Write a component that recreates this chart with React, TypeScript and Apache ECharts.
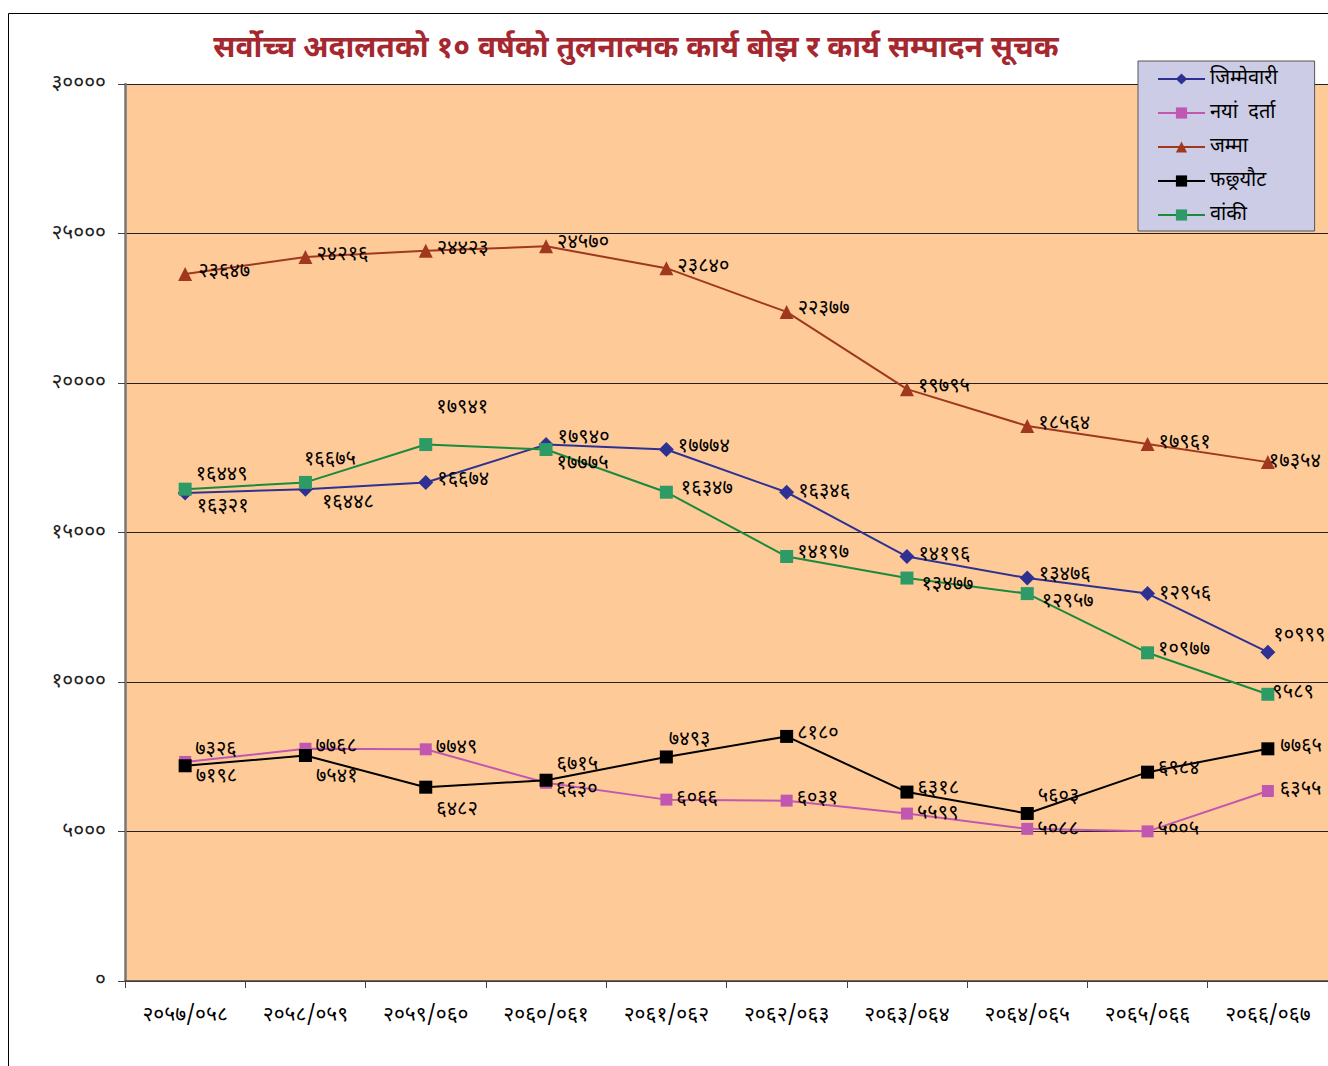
import React, { useEffect, useRef } from "react";
import * as echarts from "echarts";

const categories = [
  "२०५७/०५८", "२०५८/०५९", "२०५९/०६०", "२०६०/०६१", "२०६१/०६२",
  "२०६२/०६३", "२०६३/०६४", "२०६४/०६५", "२०६५/०६६", "२०६६/०६७",
];
const jimmewari = [16321, 16448, 16674, 17940, 17774, 16346, 14196, 13476, 12956, 10999];
const nayaDarta = [7326, 7768, 7749, 6630, 6066, 6031, 5599, 5088, 5005, 6355];
const jamma = [23647, 24216, 24423, 24570, 23840, 22377, 19795, 18564, 17961, 17354];
const phachhyaut = [7198, 7541, 6482, 6715, 7493, 8180, 6318, 5603, 6984, 7765];
const banki = [16449, 16675, 17941, 17775, 16347, 14197, 13477, 12957, 10977, 9589];
const yTicks = [0, 5000, 10000, 15000, 20000, 25000, 30000];

const TITLE = "सर्वोच्च अदालतको १० वर्षको तुलनात्मक कार्य बोझ र कार्य सम्पादन सूचक";
const FONT = "'Noto Sans Devanagari', 'Lohit Devanagari', 'Noto Sans', sans-serif";

const DEV = "०१२३४५६७८९";
const toDev = (n: number | string) => String(n).replace(/[0-9]/g, (d) => DEV[+d]);

// label offsets (style only)
const offBlue = [[0, 14], [5, 14], [0, -2], [0, -7], [0, -3], [0, 0], [0, -2], [0, -3], [0, 0], [-6, -16]];
const offPink = [[0, -12], [0, -2], [0, -1], [0, 7], [0, -1], [0, -2], [0, 0], [0, 1], [0, -1], [2, -1]];
const offRed = [[2, -2], [0, -2], [0, -2], [0, -3], [0, -1], [0, -3], [0, -2], [0, -2], [0, -1], [-10, 0]];
const offBlack = [[0, 11], [0, 21], [0, 23], [0, -15], [-8, -17], [0, -2], [0, -3], [0, -16], [0, -3], [2, -2]];
const offGreen = [[0, -14], [-12, -22], [0, -37], [0, 14], [4, -3], [0, -4], [4, 7], [4, 8], [0, -3], [-6, -1]];

function mk(
  name: string,
  values: number[],
  offs: number[][],
  color: string,
  symbolColor: string,
  symbol: string,
  symbolSize: number
) {
  return {
    name,
    type: "line",
    data: values.map((v, i) => ({ value: v, label: { offset: offs[i] } })),
    symbol,
    symbolSize,
    lineStyle: { color, width: 2 },
    itemStyle: { color: symbolColor },
    label: {
      show: true,
      position: "right",
      distance: 4,
      color: "#000",
      fontSize: 20,
      fontFamily: FONT,
      formatter: (p: any) => toDev(p.value),
    },
    z: 3,
  };
}

export default function App() {
  const ref = useRef<HTMLDivElement>(null);
  useEffect(() => {
    if (!ref.current) return;
    const chart = echarts.init(ref.current, null, { renderer: "svg" });
    chart.setOption({
      animation: false,
      backgroundColor: "#fff",
      textStyle: { fontFamily: FONT },
      title: {
        text: TITLE,
        left: 631,
        top: 29,
        textAlign: "center",
        textStyle: { color: "#A52830", fontSize: 30, fontWeight: "bold", fontFamily: FONT },
      },
      graphic: [
        {
          type: "rect",
          shape: { x: 8.5, y: 13.5, width: 1400, height: 1100 },
          style: { fill: "none", stroke: "#000", lineWidth: 1 },
          silent: true,
          z: -1,
        },
      ],
      legend: {
        orient: "vertical",
        left: 1138,
        top: 61,
        backgroundColor: "#CCCCE6",
        borderColor: "#555",
        borderWidth: 1,
        padding: [8, 37, 6, 19],
        itemWidth: 47,
        itemHeight: 14,
        itemGap: 14,
        textStyle: { fontSize: 20, lineHeight: 20, color: "#000", fontFamily: FONT },
        data: ["जिम्मेवारी", "नयां  दर्ता", "जम्मा", "फछ्र्यौट", "वांकी"],
      },
      grid: { left: 125, top: 84, bottom: 85, right: -3, show: true, backgroundColor: "#FECB98", borderWidth: 0 },
      xAxis: {
        type: "category",
        data: categories,
        boundaryGap: true,
        axisLine: { lineStyle: { color: "#444", width: 1.5 } },
        axisTick: { show: true, length: 7, lineStyle: { color: "#444" } },
        axisLabel: { color: "#000", fontSize: 21, margin: 24, fontFamily: FONT },
      },
      yAxis: {
        type: "value",
        min: yTicks[0],
        max: yTicks[yTicks.length - 1],
        interval: 5000,
        axisLine: { show: true, lineStyle: { color: "#777", width: 2.5 } },
        axisTick: { show: true, length: 7, lineStyle: { color: "#444" } },
        axisLabel: { color: "#222", fontSize: 21, margin: 19, fontFamily: FONT, formatter: (v: number) => toDev(v) },
        splitLine: { show: true, lineStyle: { color: "#222", width: 1 } },
      },
      series: [
        mk("जिम्मेवारी", jimmewari, offBlue, "#2E3192", "#2E3192", "diamond", 15),
        mk("नयां  दर्ता", nayaDarta, offPink, "#C058B0", "#C058B0", "rect", 12),
        mk("जम्मा", jamma, offRed, "#A0381F", "#A0381F", "triangle", 14),
        mk("फछ्र्यौट", phachhyaut, offBlack, "#000", "#000", "rect", 13),
        mk("वांकी", banki, offGreen, "#1A8A3C", "#2E9B66", "rect", 13),
      ],
    });
    return () => chart.dispose();
  }, []);
  return <div ref={ref} style={{ position: "fixed", left: 0, top: 0, width: 1328, height: 1066 }} />;
}
